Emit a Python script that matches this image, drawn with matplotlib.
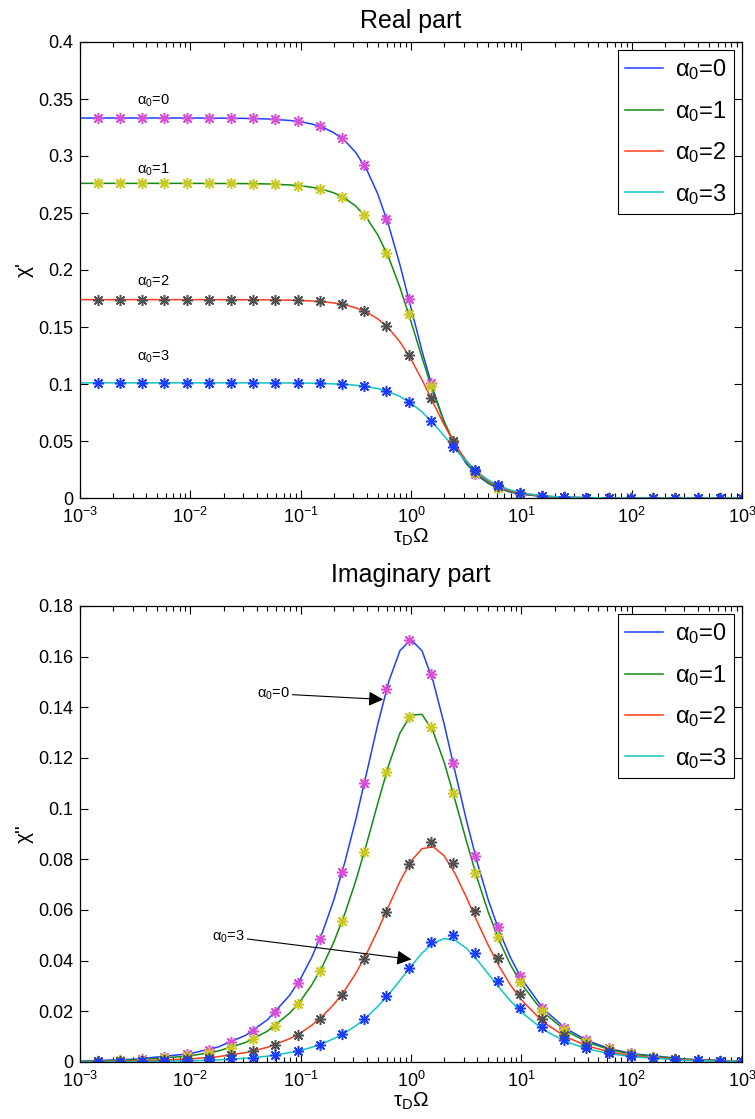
import numpy as np
import matplotlib.pyplot as plt
from matplotlib.ticker import FixedLocator, FuncFormatter, NullFormatter, LogFormatterSciNotation

plt.rcParams['font.family'] = ['Liberation Sans', 'DejaVu Sans']
plt.rcParams['mathtext.fontset'] = 'custom'
plt.rcParams['mathtext.rm'] = 'Liberation Sans'
plt.rcParams['mathtext.it'] = 'Liberation Sans:italic'
plt.rcParams['mathtext.default'] = 'regular'

# curve samples (log10 of tau_D * Omega)
line_exp = [-3, -2.5, -2, -1.75, -1.5, -1.3, -1.1, -1.0, -0.9, -0.8, -0.7, -0.6,
            -0.5, -0.4, -0.3, -0.2, -0.1, 0.0, 0.1, 0.2, 0.3, 0.4, 0.5, 0.6, 0.7,
            0.8, 0.9, 1.0, 1.2, 1.4, 1.6, 1.8, 2.0, 2.5, 3.0]
line_x = 10.0 ** np.array(line_exp)

re_line = [
    [0.3333, 0.3333, 0.3333, 0.3332, 0.3330, 0.3325, 0.3312, 0.3300, 0.3281, 0.3251, 0.3205, 0.3135,
     0.3030, 0.2877, 0.2664, 0.2384, 0.2044, 0.1667, 0.1289, 0.0949, 0.0669, 0.0456, 0.0303, 0.0198,
     0.0128, 0.0082, 0.0052, 0.0033, 0.0013, 0.0005, 0.0002, 0.0001, 0.0, 0.0, 0.0],
    [0.2760, 0.2760, 0.2760, 0.2759, 0.2758, 0.2755, 0.2746, 0.2739, 0.2726, 0.2707, 0.2677, 0.2630,
     0.2560, 0.2455, 0.2306, 0.2104, 0.1847, 0.1548, 0.1231, 0.0930, 0.0670, 0.0465, 0.0313, 0.0206,
     0.0134, 0.0086, 0.0055, 0.0035, 0.0014, 0.0006, 0.0002, 0.0001, 0.0, 0.0, 0.0],
    [0.1740, 0.1740, 0.1740, 0.1740, 0.1739, 0.1738, 0.1735, 0.1733, 0.1728, 0.1721, 0.1711, 0.1694,
     0.1668, 0.1629, 0.1571, 0.1486, 0.1369, 0.1218, 0.1036, 0.0838, 0.0643, 0.0469, 0.0329, 0.0223,
     0.0148, 0.0096, 0.0062, 0.0040, 0.0016, 0.0006, 0.0003, 0.0001, 0.0, 0.0, 0.0],
    [0.1010, 0.1010, 0.1010, 0.1010, 0.1010, 0.1009, 0.1009, 0.1008, 0.1007, 0.1005, 0.1001, 0.0997,
     0.0989, 0.0977, 0.0959, 0.0931, 0.0890, 0.0832, 0.0755, 0.0657, 0.0546, 0.0430, 0.0322, 0.0230,
     0.0159, 0.0106, 0.0070, 0.0045, 0.0019, 0.0007, 0.0003, 0.0001, 0.0, 0.0, 0.0],
]

im_line = [
    [0.0003, 0.0011, 0.0033, 0.0059, 0.0105, 0.0167, 0.0263, 0.0330, 0.0413, 0.0515, 0.0639, 0.0788,
     0.0958, 0.1145, 0.1335, 0.1504, 0.1624, 0.1667, 0.1623, 0.1504, 0.1335, 0.1145, 0.0958, 0.0788,
     0.0640, 0.0516, 0.0414, 0.0330, 0.0209, 0.0133, 0.0084, 0.0053, 0.0033, 0.0011, 0.0003],
    [0.0002, 0.0008, 0.0024, 0.0043, 0.0077, 0.0122, 0.0193, 0.0242, 0.0304, 0.0380, 0.0473, 0.0585,
     0.0716, 0.0865, 0.1023, 0.1175, 0.1299, 0.1370, 0.1372, 0.1305, 0.1184, 0.1033, 0.0875, 0.0725,
     0.0592, 0.0479, 0.0385, 0.0308, 0.0196, 0.0124, 0.0078, 0.0049, 0.0031, 0.0010, 0.0003],
    [0.0001, 0.0004, 0.0012, 0.0021, 0.0037, 0.0058, 0.0092, 0.0115, 0.0145, 0.0182, 0.0227, 0.0283,
     0.0350, 0.0430, 0.0521, 0.0618, 0.0713, 0.0793, 0.0842, 0.0850, 0.0814, 0.0743, 0.0652, 0.0554,
     0.0461, 0.0377, 0.0305, 0.0245, 0.0157, 0.0100, 0.0063, 0.0040, 0.0025, 0.0008, 0.0003],
    [0.0000, 0.0001, 0.0005, 0.0008, 0.0015, 0.0023, 0.0037, 0.0046, 0.0058, 0.0073, 0.0092, 0.0115,
     0.0143, 0.0178, 0.0220, 0.0268, 0.0322, 0.0378, 0.0430, 0.0469, 0.0487, 0.0480, 0.0450, 0.0403,
     0.0348, 0.0293, 0.0242, 0.0197, 0.0127, 0.0081, 0.0051, 0.0033, 0.0021, 0.0006, 0.0002],
]

# simulated points
mark_x = np.logspace(-2.84, 3, 30)

re_mark = [
    [0.3333, 0.3333, 0.3333, 0.3333, 0.3333, 0.3333, 0.3331, 0.3329, 0.3322, 0.3304, 0.3261, 0.3155,
     0.2917, 0.2451, 0.1743, 0.1010, 0.0490, 0.0212, 0.0087, 0.0035, 0.0014, 0.0006, 0.0002, 0.0001,
     0.0, 0.0, 0.0, 0.0, 0.0, 0.0],
    [0.2760, 0.2760, 0.2760, 0.2760, 0.2760, 0.2760, 0.2759, 0.2757, 0.2752, 0.2741, 0.2713, 0.2643,
     0.2483, 0.2153, 0.1610, 0.0985, 0.0497, 0.0220, 0.0092, 0.0037, 0.0015, 0.0006, 0.0002, 0.0001,
     0.0, 0.0, 0.0, 0.0, 0.0, 0.0],
    [0.1740, 0.1740, 0.1740, 0.1740, 0.1740, 0.1740, 0.1740, 0.1739, 0.1737, 0.1733, 0.1724, 0.1699,
     0.1640, 0.1507, 0.1251, 0.0876, 0.0498, 0.0238, 0.0103, 0.0042, 0.0017, 0.0007, 0.0003, 0.0001,
     0.0, 0.0, 0.0, 0.0, 0.0, 0.0],
    [0.1010, 0.1010, 0.1010, 0.1010, 0.1010, 0.1010, 0.1010, 0.1010, 0.1009, 0.1008, 0.1005, 0.0998,
     0.0980, 0.0938, 0.0845, 0.0677, 0.0451, 0.0244, 0.0113, 0.0048, 0.0020, 0.0008, 0.0003, 0.0001,
     0.0, 0.0, 0.0, 0.0, 0.0, 0.0],
]

im_mark = [
    [0.0005, 0.0008, 0.0012, 0.0019, 0.0031, 0.0049, 0.0078, 0.0124, 0.0196, 0.0311, 0.0487, 0.0750,
     0.1102, 0.1471, 0.1665, 0.1532, 0.1180, 0.0814, 0.0533, 0.0340, 0.0215, 0.0136, 0.0085, 0.0054,
     0.0034, 0.0021, 0.0013, 0.0008, 0.0005, 0.0003],
    [0.0004, 0.0006, 0.0009, 0.0014, 0.0023, 0.0036, 0.0057, 0.0091, 0.0144, 0.0228, 0.0358, 0.0556,
     0.0830, 0.1143, 0.1361, 0.1322, 0.1061, 0.0748, 0.0495, 0.0317, 0.0201, 0.0127, 0.0080, 0.0050,
     0.0032, 0.0020, 0.0013, 0.0008, 0.0005, 0.0003],
    [0.0002, 0.0003, 0.0004, 0.0007, 0.0011, 0.0017, 0.0027, 0.0042, 0.0067, 0.0107, 0.0169, 0.0265,
     0.0406, 0.0592, 0.0782, 0.0870, 0.0787, 0.0598, 0.0410, 0.0267, 0.0171, 0.0108, 0.0068, 0.0043,
     0.0027, 0.0017, 0.0011, 0.0007, 0.0004, 0.0003],
    [0.0001, 0.0001, 0.0002, 0.0003, 0.0004, 0.0007, 0.0011, 0.0017, 0.0028, 0.0044, 0.0069, 0.0110,
     0.0171, 0.0260, 0.0373, 0.0475, 0.0502, 0.0432, 0.0319, 0.0215, 0.0139, 0.0088, 0.0056, 0.0035,
     0.0022, 0.0014, 0.0009, 0.0006, 0.0003, 0.0002],
]

alphas = [0, 1, 2, 3]
line_colors = ['#1f3fff', '#128a12', '#ff3a1c', '#10c4c4']
mark_colors = ['#d64fd6', '#c9c922', '#505050', '#1a3cff']
star = (8, 2, 0)
decades = [1e-3, 1e-2, 1e-1, 1e0, 1e1, 1e2, 1e3]
minor = [m * d for d in decades[:-1] for m in range(2, 10)]


def style_axes(ax, yticks, ylabel, title, title_pad):
    ax.set_xscale('log')
    ax.set_xlim(1e-3, 1e3)
    ax.set_ylim(yticks[0], yticks[-1])
    ax.xaxis.set_major_locator(FixedLocator(decades))
    ax.xaxis.set_major_formatter(LogFormatterSciNotation())
    ax.xaxis.set_minor_locator(FixedLocator(minor))
    ax.xaxis.set_minor_formatter(NullFormatter())
    ax.yaxis.set_major_locator(FixedLocator(yticks))
    ax.yaxis.set_major_formatter(FuncFormatter(lambda v, p: '%g' % round(v, 4)))
    ax.tick_params(which='both', direction='in', top=True, right=True, labelsize=13, width=0.8)
    ax.tick_params(which='major', length=6, pad=5)
    ax.tick_params(axis='x', which='major', pad=6.5)
    ax.tick_params(which='minor', length=3.5)
    for s in ax.spines.values():
        s.set_linewidth(0.9)
    ax.set_xlabel('τ$_D$Ω', fontsize=15, labelpad=0)
    ax.set_ylabel(ylabel, fontsize=15, labelpad=3)
    ax.set_title(title, fontsize=18, pad=title_pad)
    leg = ax.legend(loc='upper right', fontsize=17, fancybox=False, edgecolor='k', framealpha=1,
                    handlelength=1.6, handletextpad=0.5, labelspacing=0.7, borderaxespad=0.35,
                    borderpad=0.3)
    leg.get_frame().set_linewidth(0.8)


fig = plt.figure(figsize=(7.55, 11.19), dpi=100)
ax1 = fig.add_axes([80 / 755, 1 - 498 / 1119, 662 / 755, 456 / 1119])
ax2 = fig.add_axes([80 / 755, 1 - 1062 / 1119, 662 / 755, 456 / 1119])

for i, a in enumerate(alphas):
    lab = 'α$_0$=%d' % a
    ax1.plot(line_x, re_line[i], color=line_colors[i], lw=1.1, label=lab)
    ax2.plot(line_x, im_line[i], color=line_colors[i], lw=1.1, label=lab)
for i, a in enumerate(alphas):
    ax1.plot(mark_x, re_mark[i], ls='none', marker=star, ms=8, mew=1.1, color=mark_colors[i])
    ax2.plot(mark_x, im_mark[i], ls='none', marker=star, ms=8, mew=1.1, color=mark_colors[i])

style_axes(ax1, np.arange(0, 0.401, 0.05), "χ'", 'Real part', 10)
style_axes(ax2, np.arange(0, 0.181, 0.02), "χ''", 'Imaginary part', 17)

# curve labels on the plateaus
for a, yv in zip(alphas, [0.348, 0.288, 0.1895, 0.1237]):
    ax1.text(0.0033, yv, 'α$_0$=%d' % a, fontsize=10.5, va='center', ha='left')

arrow = dict(arrowstyle='-|>', color='k', lw=0.8, mutation_scale=22, shrinkA=0, shrinkB=0)
ax2.annotate('α$_0$=0', xy=(0.56, 0.1431), xytext=(0.0399, 0.1454), fontsize=10.5,
             va='center', ha='left', arrowprops=arrow)
ax2.annotate('α$_0$=3', xy=(1.01, 0.0405), xytext=(0.0156, 0.0495), fontsize=10.5,
             va='center', ha='left', arrowprops=arrow)

fig.savefig('out.png', dpi=100)
